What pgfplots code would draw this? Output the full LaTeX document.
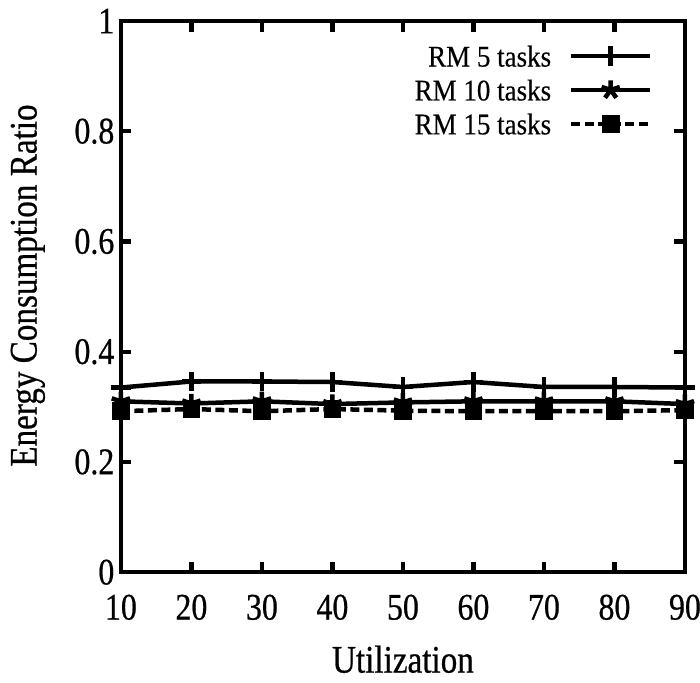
\documentclass[border=0pt]{standalone}
\usepackage{fontspec}
\setmainfont{Liberation Serif}[FakeStretch=0.85, FakeBold=0.6]
\newfontfamily\legfont{Liberation Serif}[FakeStretch=0.9, FakeBold=0.4]
\usepackage{pgfplots}
\pgfplotsset{compat=1.18}

\begin{document}
\begin{tikzpicture}
\useasboundingbox (-40.3pt,-36.7pt) rectangle (193pt,190.7pt);
\begin{axis}[
    at={(0,0)}, anchor=south west,
    width=188pt, height=183.7pt, scale only axis,
    xmin=10, xmax=90, ymin=0, ymax=1,
    xtick={10,20,...,90}, ytick={0,0.2,0.4,0.6,0.8,1},
    axis line style={line width=1.4pt},
    every tick/.style={line width=1.4pt, black},
    major tick length=3.5pt,
    /pgf/number format/assume math mode=true,
    tick label style={font=\fontsize{12.5}{14}\selectfont},
    yticklabel style={anchor=east, inner sep=0pt, xshift=-2pt},
    xticklabel style={anchor=center, yshift=-11.7pt},
    xlabel={Utilization}, ylabel={Energy Consumption Ratio},
    label style={font=\fontsize{13}{15}\selectfont},
    xlabel style={at={(axis description cs:0.5,-0.158)}, anchor=center, inner sep=0pt},
    ylabel style={at={(axis description cs:-0.165,0.52)}, anchor=center},
    legend plot pos=right, legend cell align=right,
    legend style={draw=none, fill=none, inner sep=0pt,
        font=\legfont\fontsize{10}{11.3}\selectfont,
        at={(axis description cs:0.943,0.962)}, anchor=north east,
        nodes={inner sep=1pt, text height=7pt, text depth=0pt},
        row sep=2.3pt, column sep=5pt},
    legend image code/.code={
        \draw[mark repeat=2, mark phase=2]
        plot coordinates {(0cm,0cm) (0.46cm,0cm) (0.92cm,0cm)};},
]
% RM 5 tasks
\addplot[black, line width=1.5pt, mark=+, mark size=3.2pt]
coordinates {(10,0.335) (20,0.346) (30,0.346) (40,0.345) (50,0.336)
             (60,0.345) (70,0.336) (80,0.336) (90,0.335)};
\addlegendentry{RM 5 tasks}
% RM 10 tasks
\addplot[black, line width=1.5pt, mark=star, mark size=3.2pt]
coordinates {(10,0.310) (20,0.306) (30,0.310) (40,0.305) (50,0.308)
             (60,0.310) (70,0.310) (80,0.310) (90,0.305)};
\addlegendentry{RM 10 tasks}
% RM 15 tasks
\addplot[black, line width=1.5pt, dash pattern=on 3pt off 1.5pt,
         mark=square*, mark size=2.2pt, mark options={solid}]
coordinates {(10,0.292) (20,0.296) (30,0.292) (40,0.296) (50,0.293)
             (60,0.292) (70,0.292) (80,0.292) (90,0.294)};
\addlegendentry{RM 15 tasks}
\end{axis}
\end{tikzpicture}
\end{document}
